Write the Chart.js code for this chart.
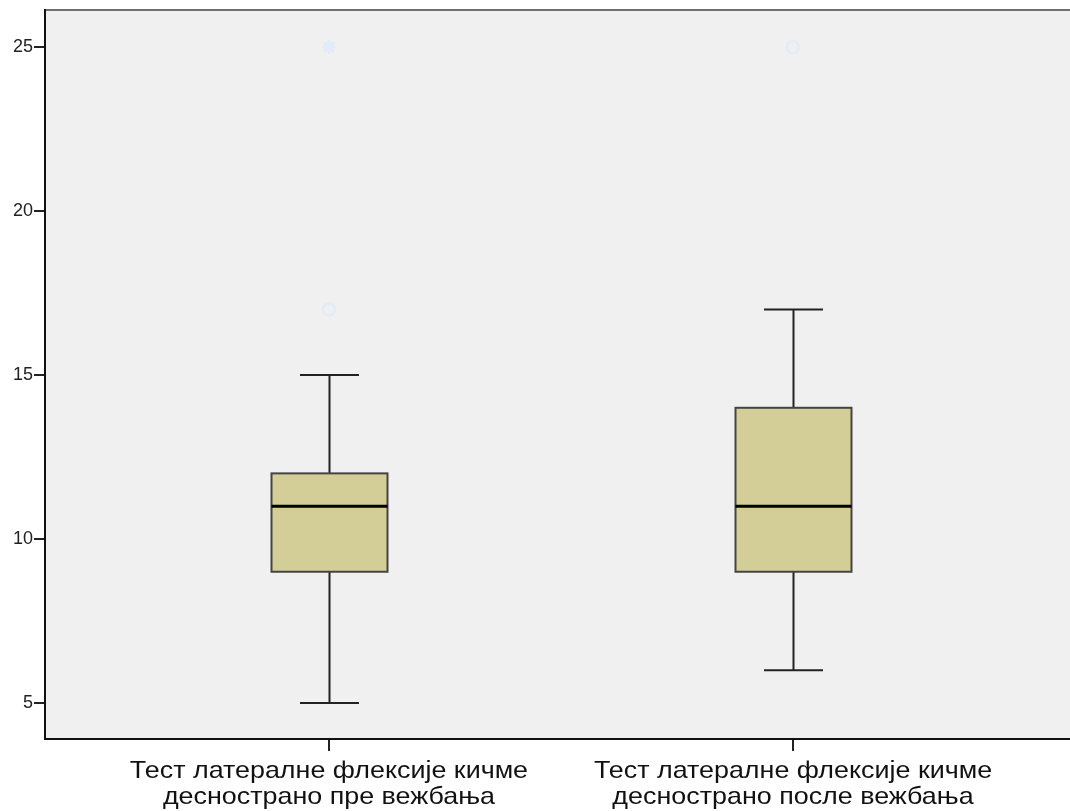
<!DOCTYPE html>
<html>
<head>
<meta charset="utf-8">
<script src="https://cdn.jsdelivr.net/npm/chart.js@4.4.0/dist/chart.umd.min.js"></script>
<style>
  html, body { margin: 0; padding: 0; background: #ffffff; overflow: hidden; }
  #wrap { width: 1070px; height: 811px; position: relative; }
  canvas { display: block; }
</style>
</head>
<body>
<div id="wrap"><canvas id="c" width="1070" height="811"></canvas></div>
<script>
// Category labels (two lines each)
const categories = [
  ['Тест латералне флексије кичме', 'десностранo пре вежбања'.replace('o', 'о')],
  ['Тест латералне флексије кичме', 'десностранo после вежбања'.replace('o', 'о')]
];

// Five-number summaries per category
const whiskerLow  = [5, 6];
const quartile1   = [9, 9];
const medians     = [11, 11];
const quartile3   = [12, 14];
const whiskerHigh = [15, 17];

// Outliers: [category index, value]
const outlierCircles = [[0, 17], [1, 25]];
const outlierStars   = [[0, 25]];

const yTicks = [5, 10, 15, 20, 25];

const circleData = outlierCircles.map(([i, v]) => ({ x: i, y: v }));
const starData = outlierStars.map(([i, v]) => ({ x: i, y: v }));

// Grey plot background and top frame line
const plotBg = {
  id: 'plotBg',
  beforeDraw(chart) {
    const { ctx, chartArea: a } = chart;
    ctx.save();
    ctx.fillStyle = '#f0f0f0';
    ctx.fillRect(a.left, a.top, a.right - a.left, a.bottom - a.top);
    ctx.strokeStyle = '#707070';
    ctx.lineWidth = 2;
    ctx.beginPath();
    ctx.moveTo(a.left, a.top);
    ctx.lineTo(a.right, a.top);
    ctx.stroke();
    ctx.restore();
  }
};

// Box-and-whisker marks positioned through the chart scales
const boxes = {
  id: 'boxes',
  beforeDatasetsDraw(chart) {
    const { ctx, scales: { x, y } } = chart;
    ctx.save();
    categories.forEach((_, i) => {
      const cx = Math.round(x.getPixelForValue(i)) + 0.5;
      const boxHalf = 58;
      const capHalf = 29.5;
      const yQ1 = y.getPixelForValue(quartile1[i]);
      const yQ3 = y.getPixelForValue(quartile3[i]);
      const yMed = y.getPixelForValue(medians[i]);
      const yLo = y.getPixelForValue(whiskerLow[i]);
      const yHi = y.getPixelForValue(whiskerHigh[i]);

      // whiskers and caps
      ctx.strokeStyle = '#222';
      ctx.lineWidth = 2;
      ctx.beginPath();
      ctx.moveTo(cx, yQ3); ctx.lineTo(cx, yHi);
      ctx.moveTo(cx, yQ1); ctx.lineTo(cx, yLo);
      ctx.moveTo(cx - capHalf, yHi); ctx.lineTo(cx + capHalf, yHi);
      ctx.moveTo(cx - capHalf, yLo); ctx.lineTo(cx + capHalf, yLo);
      ctx.stroke();

      // box
      ctx.fillStyle = '#d3ce97';
      ctx.fillRect(cx - boxHalf, yQ3, boxHalf * 2, yQ1 - yQ3);
      ctx.strokeStyle = '#444';
      ctx.lineWidth = 2;
      ctx.strokeRect(cx - boxHalf, yQ3, boxHalf * 2, yQ1 - yQ3);

      // median
      ctx.strokeStyle = '#000';
      ctx.lineWidth = 3;
      ctx.beginPath();
      ctx.moveTo(cx - boxHalf, yMed);
      ctx.lineTo(cx + boxHalf, yMed);
      ctx.stroke();
    });
    ctx.restore();
  }
};

// Category labels under the x-axis tick marks
const catLabels = {
  id: 'catLabels',
  afterDraw(chart) {
    const { ctx, scales: { x } } = chart;
    ctx.save();
    ctx.fillStyle = '#111';
    ctx.font = '24px "Liberation Sans", Arial, sans-serif';
    ctx.textAlign = 'center';
    ctx.textBaseline = 'alphabetic';
    categories.forEach((lines, i) => {
      const cx = x.getPixelForValue(i);
      lines.forEach((t, k) => {
        ctx.save();
        ctx.translate(cx, x.top + 39 + k * 26);
        ctx.scale(1.12, 1);
        ctx.fillText(t, 0, 0);
        ctx.restore();
      });
    });
    ctx.restore();
  }
};

function noPadding(s) {
  s.paddingLeft = 0; s.paddingRight = 0; s.paddingTop = 0; s.paddingBottom = 0;
}

new Chart(document.getElementById('c'), {
  type: 'scatter',
  data: {
    datasets: [
      {
        data: circleData,
        pointStyle: 'circle',
        pointRadius: 6,
        borderColor: '#e2ebf8',
        borderWidth: 2.5,
        backgroundColor: 'rgba(0,0,0,0)'
      },
      {
        data: starData,
        pointStyle: 'star',
        pointRadius: 7,
        borderColor: '#e2ebf8',
        borderWidth: 3,
        backgroundColor: '#e2ebf8'
      }
    ]
  },
  options: {
    responsive: false,
    animation: false,
    layout: { autoPadding: false, padding: { top: 10, right: 0, left: 0, bottom: 0 } },
    plugins: { legend: { display: false }, tooltip: { enabled: false } },
    scales: {
      x: {
        type: 'linear',
        offset: false,
        min: -0.612,
        max: 1.597,
        afterBuildTicks(s) { s.ticks = categories.map((_, i) => ({ value: i })); },
        afterFit(s) { s.height = 72; noPadding(s); },
        ticks: { callback: () => '', autoSkip: false, maxRotation: 0 },
        grid: { drawOnChartArea: false, drawTicks: true, tickLength: 12, color: '#222', lineWidth: 2, offset: false },
        border: { display: true, color: '#111', width: 2 }
      },
      y: {
        type: 'linear',
        min: 3.9,
        max: 26.13,
        afterBuildTicks(s) { s.ticks = yTicks.map(v => ({ value: v })); },
        afterFit(s) { s.width = 45; noPadding(s); },
        ticks: {
          color: '#222',
          font: { family: '"Liberation Sans", Arial, sans-serif', size: 18 },
          padding: 1
        },
        grid: { drawOnChartArea: false, drawTicks: true, tickLength: 11, color: '#222', lineWidth: 2 },
        border: { display: true, color: '#111', width: 2 }
      }
    }
  },
  plugins: [plotBg, boxes, catLabels]
});
</script>
</body>
</html>
